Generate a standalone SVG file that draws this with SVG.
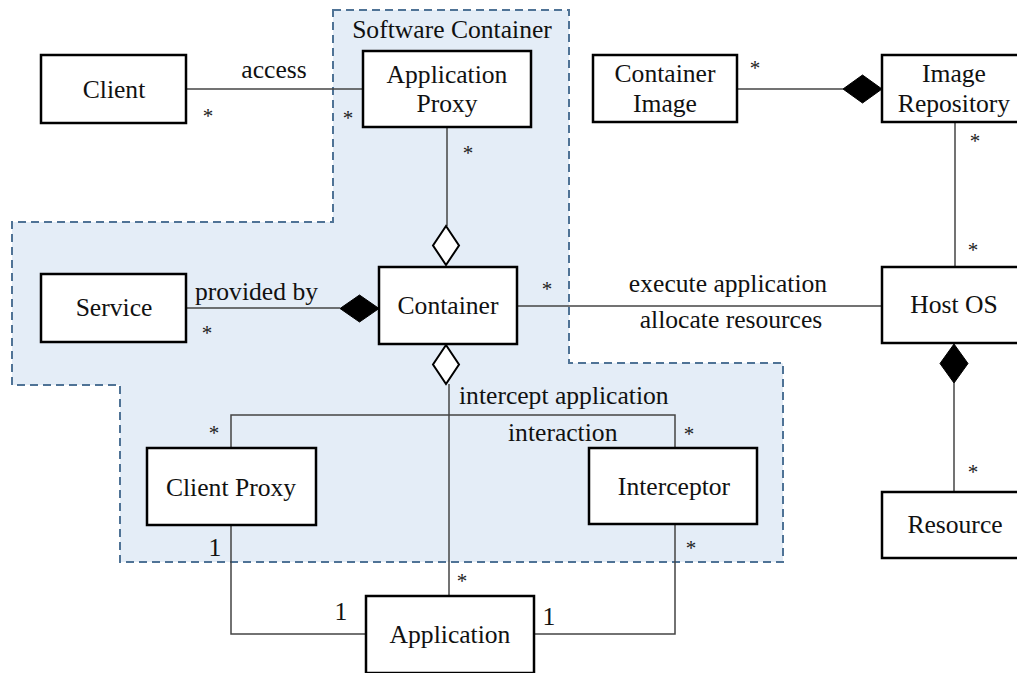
<svg xmlns="http://www.w3.org/2000/svg" width="1017" height="673" viewBox="0 0 1017 673">
<style>
.box{fill:#fff;stroke:#000;stroke-width:2.5}
.t{font-family:"Liberation Serif","Times New Roman",serif;font-size:25.6px;fill:#111}
.m{font-family:"Liberation Serif","Times New Roman",serif;font-size:21px;fill:#222}
.c{text-anchor:middle}
.ln{fill:none;stroke:#444;stroke-width:1.5}
.dh{fill:#fff;stroke:#000;stroke-width:2}
.df{fill:#000;stroke:#000;stroke-width:1}
</style>
<rect width="1017" height="673" fill="#fff"/>
<g id="software-container">
<path d="M333,10 H569 V363 H783 V562 H120 V385 H12 V222 H333 Z" fill="#e4edf7" stroke="#4f7396" stroke-width="2" stroke-dasharray="8,5"/>
<text class="t c" x="452" y="38">Software Container</text>
</g>
<g id="connectors">
<path class="ln" d="M186,89 H363"/>
<path class="ln" d="M447,127 V226"/>
<path class="dh" d="M446,226 L459,245.5 L446,265 L433,245.5 Z"/>
<path class="ln" d="M186,308 H340"/>
<path class="df" d="M340,308.5 L359.5,295 L379,308.5 L359.5,322 Z"/>
<path class="ln" d="M517,306 H882"/>
<path class="ln" d="M737,89 H843"/>
<path class="df" d="M843,89 L862.5,75 L882,89 L862.5,103 Z"/>
<path class="ln" d="M955,122 V267"/>
<path class="df" d="M954,344 L968,363.5 L954,383 L940,363.5 Z"/>
<path class="ln" d="M954,383 V492"/>
<path class="dh" d="M446,345 L459,364.5 L446,384 L433,364.5 Z"/>
<path class="ln" d="M449,384 V596"/>
<path class="ln" d="M231,448 V415 H675 V448"/>
<path class="ln" d="M231,525 V634 H366"/>
<path class="ln" d="M675,524 V634 H534"/>
<text class="t c" x="274" y="78">access</text>
<text class="t" x="195" y="300">provided by</text>
<text class="t c" x="728" y="292">execute application</text>
<text class="t c" x="731" y="328">allocate resources</text>
<text class="t" x="459" y="404">intercept application</text>
<text class="t" x="508" y="441">interaction</text>
<text class="m c" x="208" y="123">*</text>
<text class="m c" x="348" y="125">*</text>
<text class="m c" x="468" y="160">*</text>
<text class="m c" x="755" y="75">*</text>
<text class="m c" x="975" y="148">*</text>
<text class="m c" x="973" y="257">*</text>
<text class="m c" x="207" y="340">*</text>
<text class="m c" x="547" y="296">*</text>
<text class="m c" x="214" y="440">*</text>
<text class="m c" x="689" y="441">*</text>
<text class="m c" x="973" y="479">*</text>
<text class="m c" x="691" y="555">*</text>
<text class="m c" x="462" y="588">*</text>
<text class="t c" x="215" y="556">1</text>
<text class="t c" x="341" y="620">1</text>
<text class="t c" x="549" y="625">1</text>
</g>
<g id="client"><rect class="box" x="41" y="55" width="145" height="68"/><text class="t c" x="114" y="98">Client</text></g>
<g id="application-proxy"><rect class="box" x="363" y="51" width="168" height="76"/><text class="t c" x="447" y="83">Application</text><text class="t c" x="447" y="112">Proxy</text></g>
<g id="container-image"><rect class="box" x="593" y="55" width="144" height="67"/><text class="t c" x="665" y="82">Container</text><text class="t c" x="665" y="112">Image</text></g>
<g id="image-repository"><rect class="box" x="882" y="55" width="144" height="67"/><text class="t c" x="954" y="82">Image</text><text class="t c" x="954" y="112">Repository</text></g>
<g id="service"><rect class="box" x="41" y="274" width="145" height="68"/><text class="t c" x="114" y="316">Service</text></g>
<g id="container"><rect class="box" x="379" y="267" width="138" height="77"/><text class="t c" x="448" y="314">Container</text></g>
<g id="host-os"><rect class="box" x="882" y="267" width="144" height="76"/><text class="t c" x="954" y="313">Host OS</text></g>
<g id="client-proxy"><rect class="box" x="147" y="448" width="169" height="77"/><text class="t c" x="231" y="496">Client Proxy</text></g>
<g id="interceptor"><rect class="box" x="589" y="448" width="168" height="76"/><text class="t c" x="674" y="495">Interceptor</text></g>
<g id="resource"><rect class="box" x="882" y="492" width="144" height="66"/><text class="t c" x="955" y="533">Resource</text></g>
<g id="application"><rect class="box" x="366" y="596" width="168" height="77"/><text class="t c" x="450" y="643">Application</text></g>
</svg>
